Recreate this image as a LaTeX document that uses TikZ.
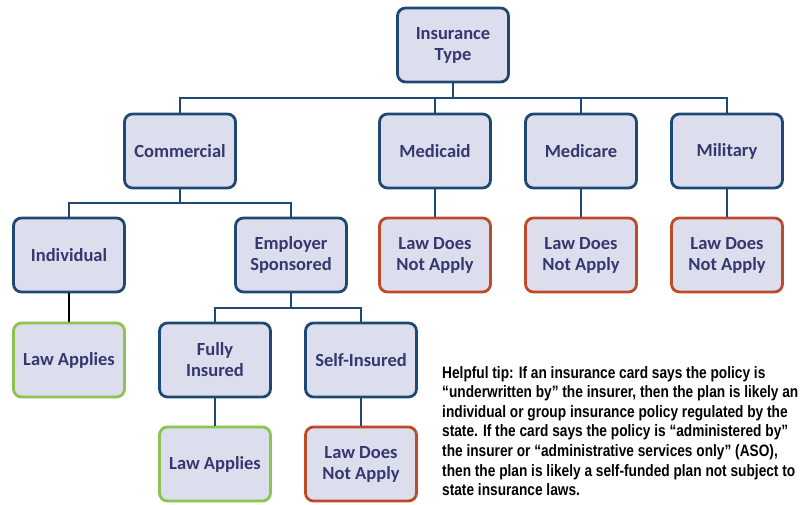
\documentclass[tikz,border=0pt]{standalone}
\usepackage{fontspec}
\setmainfont{Carlito}
\newfontfamily\tipfont[FakeStretch=0.83]{Liberation Sans}
\definecolor{boxfill}{RGB}{220,222,238}
\definecolor{boxedge}{RGB}{31,73,115}
\definecolor{boxtext}{RGB}{52,56,110}
\definecolor{yesedge}{RGB}{140,196,80}
\definecolor{noedge}{RGB}{190,75,40}
\tikzset{
  box/.style={draw=boxedge, fill=boxfill, line width=2.8pt, rounded corners=8pt,
    minimum width=111pt, minimum height=74pt, align=center, text=boxtext,
    font=\bfseries\fontsize{18.5}{21}\selectfont, inner sep=2pt},
  yesbox/.style={box, draw=yesedge},
  nobox/.style={box, draw=noedge},
  link/.style={draw=boxedge, line width=2.4pt},
  blacklink/.style={draw=black, line width=2.4pt}
}
\begin{document}
\begin{tikzpicture}[x=1pt, y=-1pt]
\useasboundingbox (0,0) rectangle (805,504);
% top level
\node[box] (type) at (453,45) {Insurance\\Type};
% categories
\node[box] (comm) at (180,151) {Commercial};
\node[box] (mcaid) at (435,151) {Medicaid};
\node[box] (mcare) at (581,151) {Medicare};
\node[box] (mil) at (727,151) {Military};
% commercial split
\node[box] (indiv) at (69,255) {Individual};
\node[box] (empl) at (291,255) {Employer\\Sponsored};
\node[nobox] (naid) at (435,255) {Law Does\\Not Apply};
\node[nobox] (nare) at (581,255) {Law Does\\Not Apply};
\node[nobox] (nmil) at (727,255) {Law Does\\Not Apply};
% employer split
\node[yesbox] (yind) at (69,360) {Law Applies};
\node[box] (full) at (215,360) {Fully\\Insured};
\node[box] (self) at (361,360) {Self-Insured};
\node[yesbox] (yfull) at (215,464) {Law Applies};
\node[nobox] (nself) at (361,464) {Law Does\\Not Apply};
% connectors
\coordinate (b1) at (453,98);
\draw[link] (type.south) -- (b1);
\draw[link] (comm.north) |- (b1) -| (mil.north);
\draw[link] (mcaid.north) -- (mcaid.north |- b1);
\draw[link] (mcare.north) -- (mcare.north |- b1);
\coordinate (b2) at (180,203);
\draw[link] (comm.south) -- (b2);
\draw[link] (indiv.north) |- (b2) -| (empl.north);
\coordinate (b3) at (291,308);
\draw[link] (empl.south) -- (b3);
\draw[link] (full.north) |- (b3) -| (self.north);
\draw[link] (mcaid.south) -- (naid.north);
\draw[link] (mcare.south) -- (nare.north);
\draw[link] (mil.south) -- (nmil.north);
\draw[blacklink] (indiv.south) -- (yind.north);
\draw[link] (full.south) -- (yfull.north);
\draw[link] (self.south) -- (nself.north);
% tip text
\node[anchor=north west, align=left, inner sep=0pt, text=black,
  font=\tipfont\bfseries\fontsize{16.5}{19.6}\selectfont] (tip) at (442,366)
  {Helpful tip: If an insurance card says the policy is\\
   “underwritten by” the insurer, then the plan is likely an\\
   individual or group insurance policy regulated by the\\
   state. If the card says the policy is “administered by”\\
   the insurer or “administrative services only” (ASO),\\
   then the plan is likely a self-funded plan not subject to\\
   state insurance laws.};
\end{tikzpicture}
\end{document}
